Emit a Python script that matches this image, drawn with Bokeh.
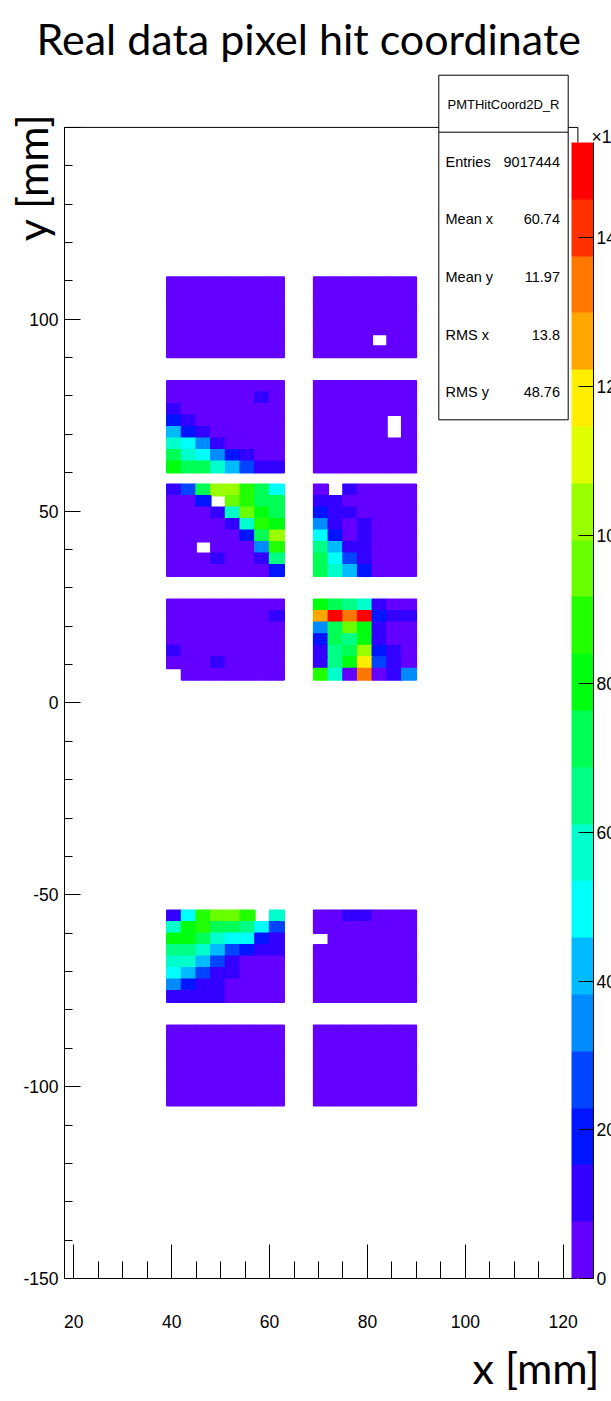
import math
from bokeh.plotting import figure
from bokeh.models import (LinearColorMapper, ColorBar, FixedTicker, Label, BoxAnnotation,
                          ColumnDataSource, SingleIntervalTicker, Title)
from bokeh.transform import transform
from bokeh.embed import file_html
from bokeh.resources import INLINE

# ---------------- data (bin contents in units of 10^3 entries, rows top -> bottom) -------------
PITCH = 3.0                     # mm, pixel pitch
X_LEFT_BLOCK = 39               # mm, left edge of left PMT column
X_RIGHT_BLOCK = 69              # mm, left edge of right PMT column
BLOCK_TOPS = [111, 84, 57, 27, -54, -84]   # mm, top edge of each PMT row

A_left = [[4] * 8 for _ in range(7)]
A_right = [[4, 4, 4, 4, 4, 4, 4],
           [4, 4, 4, 4, 4, 4, 4],
           [4, 4, 4, 4, 4, 4, 4],
           [4, 4, 4, 4, 4, 4, 4],
           [4, 4, 4, 4, 4, 4, 4],
           [4, 4, 4, 4, 0, 4, 4],
           [4, 4, 4, 4, 4, 4, 4]]

B_left = [[4, 4, 4, 4, 4, 4, 4, 4],
          [4, 4, 4, 4, 4, 4, 11, 4],
          [11, 4, 4, 4, 4, 4, 4, 4],
          [19, 11, 4, 4, 4, 4, 4, 4],
          [42, 19, 11, 4, 4, 4, 4, 4],
          [57, 50, 34, 11, 4, 4, 4, 4],
          [73, 57, 50, 34, 19, 11, 4, 4],
          [80, 73, 73, 57, 42, 27, 11, 11]]
B_right = [[4, 4, 4, 4, 4, 4, 4],
           [4, 4, 4, 4, 4, 4, 4],
           [4, 4, 4, 4, 4, 4, 4],
           [4, 4, 4, 4, 4, 0, 4],
           [4, 4, 4, 4, 4, 0, 4],
           [4, 4, 4, 4, 4, 4, 4],
           [4, 4, 4, 4, 4, 4, 4],
           [4, 4, 4, 4, 4, 4, 4]]

C_left = [[11, 27, 73, 103, 103, 88, 73, 50],
          [4, 4, 19, 0, 95, 88, 73, 73],
          [4, 4, 4, 11, 57, 95, 80, 73],
          [4, 4, 4, 4, 11, 57, 88, 80],
          [4, 4, 4, 4, 4, 19, 73, 103],
          [4, 4, 0, 4, 4, 4, 34, 88],
          [4, 4, 4, 11, 4, 4, 11, 65],
          [4, 4, 4, 4, 4, 4, 4, 19]]
C_right = [[4, 0, 11, 4, 4, 4, 4],
           [11, 11, 4, 4, 4, 4, 4],
           [19, 11, 11, 4, 4, 4, 4],
           [34, 11, 4, 11, 4, 4, 4],
           [50, 19, 4, 11, 4, 4, 4],
           [65, 42, 11, 11, 4, 4, 4],
           [73, 50, 27, 11, 4, 4, 4],
           [73, 57, 42, 19, 4, 4, 4]]

D_left = [[4, 4, 4, 4, 4, 4, 4, 4],
          [4, 4, 4, 4, 4, 4, 4, 11],
          [4, 4, 4, 4, 4, 4, 4, 4],
          [4, 4, 4, 4, 4, 4, 4, 4],
          [11, 4, 4, 4, 4, 4, 4, 4],
          [4, 4, 4, 11, 4, 4, 4, 4],
          [0, 4, 4, 4, 4, 4, 4, 4]]
D_right = [[80, 73, 65, 57, 11, 4, 4],
           [126, 149, 134, 149, 19, 11, 11],
           [34, 73, 95, 80, 11, 4, 4],
           [19, 73, 65, 80, 11, 4, 4],
           [11, 65, 73, 103, 19, 11, 4],
           [11, 65, 80, 118, 27, 11, 4],
           [88, 57, 4, 134, 4, 11, 34]]

E_left = [[11, 50, 88, 95, 95, 88, 0, 57],
          [57, 80, 88, 73, 73, 65, 50, 27],
          [80, 80, 73, 57, 50, 50, 19, 11],
          [65, 65, 57, 42, 27, 19, 11, 11],
          [57, 57, 42, 27, 11, 4, 4, 4],
          [50, 42, 27, 11, 11, 4, 4, 4],
          [34, 19, 11, 11, 4, 4, 4, 4],
          [11, 11, 11, 11, 4, 4, 4, 4]]
E_right = [[4, 4, 11, 11, 4, 4, 4],
           [4, 4, 4, 4, 4, 4, 4],
           [0, 4, 4, 4, 4, 4, 4],
           [4, 4, 4, 4, 4, 4, 4],
           [4, 4, 4, 4, 4, 4, 4],
           [4, 4, 4, 4, 4, 4, 4],
           [4, 4, 4, 4, 4, 4, 4],
           [4, 4, 4, 4, 4, 4, 4]]

F_left = [[4] * 8 for _ in range(7)]
F_right = [[4] * 7 for _ in range(7)]

Z_MAX = 152.8                   # 10^3, top of the colour scale
Z_TICKS = [0, 20, 40, 60, 80, 100, 120, 140]

STAT_TITLE = "PMTHitCoord2D_R"
STAT_NAMES = ["Entries", "Mean x", "Mean y", "RMS x", "RMS y"]
STAT_VALUES = ["9017444", "60.74", "11.97", "13.8", "48.76"]

# ROOT "pretty" palette sampled at 20 contour levels
PALETTE = ["#6300ff", "#3300ff", "#0014ff", "#0044ff", "#008bff", "#00bbff", "#00fffb",
           "#00ffcc", "#00ff85", "#00ff55", "#00ff0e", "#22ff00", "#69ff00", "#99ff00",
           "#e0ff00", "#ffee00", "#ffa700", "#ff7700", "#ff3000", "#ff0000"]

# ---------------- build cells ----------------
blocks = [(A_left, X_LEFT_BLOCK, BLOCK_TOPS[0]), (A_right, X_RIGHT_BLOCK, BLOCK_TOPS[0]),
          (B_left, X_LEFT_BLOCK, BLOCK_TOPS[1]), (B_right, X_RIGHT_BLOCK, BLOCK_TOPS[1]),
          (C_left, X_LEFT_BLOCK, BLOCK_TOPS[2]), (C_right, X_RIGHT_BLOCK, BLOCK_TOPS[2]),
          (D_left, X_LEFT_BLOCK, BLOCK_TOPS[3]), (D_right, X_RIGHT_BLOCK, BLOCK_TOPS[3]),
          (E_left, X_LEFT_BLOCK, BLOCK_TOPS[4]), (E_right, X_RIGHT_BLOCK, BLOCK_TOPS[4]),
          (F_left, X_LEFT_BLOCK, BLOCK_TOPS[5]), (F_right, X_RIGHT_BLOCK, BLOCK_TOPS[5])]

xs, ys, vs = [], [], []
for grid, x0, ytop in blocks:
    for r, row in enumerate(grid):
        for c, v in enumerate(row):
            if v > 0:
                xs.append(x0 + PITCH * (c + 0.5))
                ys.append(ytop - PITCH * (r + 0.5))
                vs.append(v)
src = ColumnDataSource(dict(x=xs, y=ys, v=vs))

# ---------------- figure ----------------
W, H = 611, 1401
FL, FT, FB = 64, 72, 1278    # frame left / top / bottom (page px); frame reaches the right page edge
XS, YS = 4.894, 3.837        # px per mm
X0, Y0 = 18.1, -150.0
X1 = X0 + (W - FL) / XS
Y1 = Y0 + (FB - FT) / YS
XMAX, YMAX = 123.0, 150.0    # visible histogram frame

p = figure(width=W, height=H, x_range=(X0, X1), y_range=(Y0, Y1),
           output_backend="svg", toolbar_location=None,
           min_border_left=FL, min_border_right=0, min_border_top=FT, min_border_bottom=H - FB)
p.outline_line_color = None
p.grid.visible = False
p.background_fill_color = "white"
p.border_fill_color = "white"


def dx(px):   # page pixel x -> data x
    return X0 + (px - FL) / XS


def dy(py):   # page pixel y -> data y
    return Y0 + (FB - py) / YS


mapper = LinearColorMapper(palette=PALETTE, low=0, high=Z_MAX)
p.rect(x="x", y="y", width=PITCH, height=PITCH, source=src,
       fill_color=transform("v", mapper), line_color=transform("v", mapper), line_width=1.5)

# frame top / right edges
p.segment(x0=[X0, XMAX], y0=[YMAX, YMAX], x1=[XMAX, XMAX], y1=[YMAX, dy(142)],
          line_color="black", line_width=1)

# axes
p.xaxis.ticker = SingleIntervalTicker(interval=20, num_minor_ticks=4)
p.yaxis.ticker = SingleIntervalTicker(interval=50, num_minor_ticks=5)
p.xaxis.bounds = (X0, XMAX)
p.yaxis.bounds = (Y0, YMAX)
for ax in (p.xaxis[0], p.yaxis[0]):
    ax.axis_line_color = "black"
    ax.major_tick_line_color = "black"
    ax.minor_tick_line_color = "black"
    ax.major_tick_out = 0
    ax.minor_tick_out = 0
    ax.major_label_text_font = "Liberation Sans"
    ax.major_label_text_font_size = "17.5px"
    ax.major_label_text_color = "black"
p.xaxis.major_tick_in = 34
p.xaxis.minor_tick_in = 17
p.xaxis.major_label_standoff = 36
p.yaxis.major_tick_in = 16
p.yaxis.minor_tick_in = 8
p.yaxis.major_label_standoff = 6
p.yaxis.major_label_overrides = {150: "", -50: "-50", -100: "-100", -150: "-150"}

# y title sits near the top of the axis (label is centred on the frame top; trailing
# spaces move the visible text down)
p.yaxis.axis_label = "y [mm]" + "\u2003" * 5 + "\u2002" * 2 + "\u2009"
p.yaxis.axis_label_align = "end"
p.yaxis.axis_label_standoff_mode = "axis"
p.yaxis.axis_label_standoff = 8
p.yaxis.axis_label_text_font = "Lato"
p.yaxis.axis_label_text_font_size = "43px"
p.yaxis.axis_label_text_font_style = "normal"
p.yaxis.axis_label_text_color = "black"

# colour bar
cb = ColorBar(color_mapper=mapper, ticker=FixedTicker(ticks=Z_TICKS),
              width=22, height=1136, location=(571 - FL, 0), padding=0, margin=0,
              major_tick_in=15, major_tick_out=0, major_tick_line_color="black",
              minor_tick_line_color=None, label_standoff=3,
              major_label_text_font="Liberation Sans", major_label_text_font_size="17.5px",
              major_label_text_color="black",
              background_fill_color=None, border_line_color=None, bar_line_color=None)
p.add_layout(cb)
p.segment(x0=[dx(593)], y0=[dy(142)], x1=[dx(593)], y1=[Y0], line_color="black",
          line_width=1, level="overlay")
p.add_layout(Label(x=dx(591), y=dy(136), text="\u00d710\u00b3", text_font="Liberation Sans",
                   text_font_size="17.5px", text_color="black", text_baseline="alphabetic"))

# statistics box
p.add_layout(BoxAnnotation(left=dx(438.3), right=dx(567.7), top=dy(74.7), bottom=dy(419.3),
                           fill_color="white", fill_alpha=1.0, line_color="black",
                           line_width=1, line_alpha=1.0))
p.segment(x0=[dx(438.3)], y0=[dy(131.7)], x1=[dx(567.7)], y1=[dy(131.7)],
          line_color="black", line_width=1, level="overlay")
p.add_layout(Label(x=dx(503), y=dy(104), text=STAT_TITLE, text_font="Liberation Sans",
                   text_font_size="13px", text_align="center", text_baseline="middle",
                   text_color="black"))
row_y = [161, 218, 276, 334, 391]
for name, val, yy in zip(STAT_NAMES, STAT_VALUES, row_y):
    p.add_layout(Label(x=dx(445), y=dy(yy), text=name, text_font="Liberation Sans",
                       text_font_size="14.5px", text_align="left", text_baseline="middle",
                       text_color="black"))
    p.add_layout(Label(x=dx(559.5), y=dy(yy), text=val, text_font="Liberation Sans",
                       text_font_size="14.5px", text_align="right", text_baseline="middle",
                       text_color="black"))

# titles
p.title.text = "Real data pixel hit coordinate"
p.title.align = "left"
p.title.offset = 36 - FL
p.title.standoff = 18
p.title.text_font = "Lato"
p.title.text_font_size = "43px"
p.title.text_font_style = "normal"
p.title.text_color = "black"

p.add_layout(Title(text="x [mm]", align="right", offset=12, standoff=18,
                   text_font="Lato", text_font_size="43px", text_font_style="normal",
                   text_color="black"), "below")

open("out.html", "w").write(file_html(p, INLINE))
